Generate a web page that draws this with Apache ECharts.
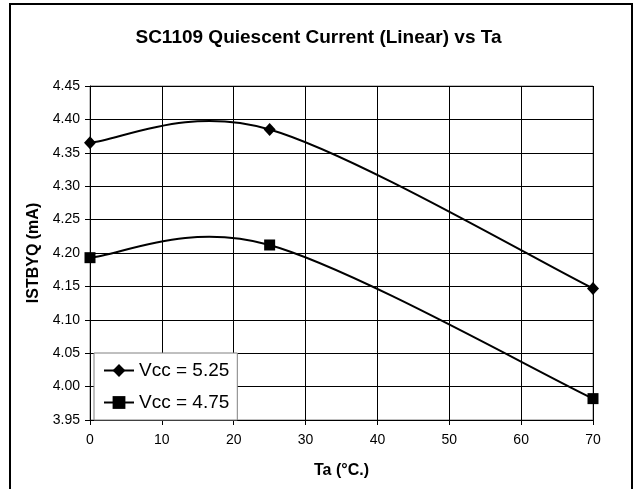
<!DOCTYPE html>
<html>
<head>
<meta charset="utf-8">
<script src="https://cdn.jsdelivr.net/npm/echarts@6/dist/echarts.min.js"></script>
<style>
html,body{margin:0;padding:0;background:#fff;}
#chart{width:637px;height:489px;}
</style>
</head>
<body>
<div id="chart"></div>
<script>
var titleText = 'SC1109 Quiescent Current (Linear) vs Ta';
var xName = 'Ta (°C.)';
var yName = 'ISTBYQ (mA)';
var seriesNames = ['Vcc = 5.25', 'Vcc = 4.75'];
var temps = [0, 25, 70];
var vcc525 = [4.365, 4.385, 4.147];
var vcc475 = [4.193, 4.212, 3.982];

function pairs(xs, ys) { return xs.map(function (x, i) { return [x, ys[i]]; }); }

// Smoothed (Catmull-Rom style) curve through the data, positioned via the axes' scales
function smoothCurve(xs, ys) {
  return function (params, api) {
    var p = xs.map(function (x, i) { return api.coord([x, ys[i]]); });
    var n = p.length;
    var d = 'M' + p[0][0] + ',' + p[0][1];
    for (var i = 0; i < n - 1; i++) {
      var p0 = p[Math.max(i - 1, 0)], p1 = p[i], p2 = p[i + 1], p3 = p[Math.min(i + 2, n - 1)];
      var c1 = [p1[0] + (p2[0] - p0[0]) / 6, p1[1] + (p2[1] - p0[1]) / 6];
      var c2 = [p2[0] - (p3[0] - p1[0]) / 6, p2[1] - (p3[1] - p1[1]) / 6];
      d += ' C' + c1[0] + ',' + c1[1] + ' ' + c2[0] + ',' + c2[1] + ' ' + p2[0] + ',' + p2[1];
    }
    return {
      type: 'path',
      shape: {pathData: d},
      style: {fill: 'none', stroke: '#000', lineWidth: 2}
    };
  };
}

var chart = echarts.init(document.getElementById('chart'), null, {renderer: 'canvas'});
var font = '"Liberation Sans", Arial, sans-serif';
chart.setOption({
  backgroundColor: '#fff',
  animation: false,
  textStyle: {fontFamily: font},
  title: {
    text: titleText, left: 'center', top: 23,
    textStyle: {fontFamily: font, fontSize: 19, fontWeight: 'bold', color: '#000'}
  },
  graphic: [{
    type: 'rect', z: 100,
    shape: {x: 10, y: 4, width: 622, height: 520},
    style: {fill: 'none', stroke: '#000', lineWidth: 2}
  }],
  grid: {left: 90, right: 44, top: 86, bottom: 69, show: true, borderColor: '#808080', borderWidth: 1},
  legend: {
    orient: 'vertical', left: 94, top: 353,
    padding: [8, 8, 8, 9], itemGap: 13, itemWidth: 30, itemHeight: 16,
    backgroundColor: '#fff', borderColor: '#808080', borderWidth: 1,
    textStyle: {fontFamily: font, fontSize: 19, color: '#000'},
    lineStyle: {color: '#000', width: 2, opacity: 1},
    data: seriesNames
  },
  xAxis: {
    type: 'value', min: 0, max: 70, interval: 10,
    name: xName, nameLocation: 'middle', nameGap: 43,
    nameTextStyle: {fontFamily: font, fontSize: 16, fontWeight: 'bold', color: '#000'},
    axisLine: {show: true, lineStyle: {color: '#000', width: 1}},
    axisTick: {show: true, length: 5, lineStyle: {color: '#000'}},
    axisLabel: {fontFamily: font, fontSize: 14, color: '#000', margin: 13},
    splitLine: {show: true, lineStyle: {color: '#000', width: 1}}
  },
  yAxis: {
    type: 'value', min: 3.95, max: 4.45, interval: 0.05,
    name: yName, nameLocation: 'middle', nameGap: 43, nameRotate: 90,
    nameTextStyle: {fontFamily: font, fontSize: 16, fontWeight: 'bold', color: '#000'},
    axisLine: {show: true, lineStyle: {color: '#000', width: 1}},
    axisTick: {show: true, length: 5, lineStyle: {color: '#000'}},
    axisLabel: {fontFamily: font, fontSize: 14, color: '#000', margin: 10,
      formatter: function (v) { return v.toFixed(2); }},
    splitLine: {show: true, lineStyle: {color: '#000', width: 1}}
  },
  series: [
    {
      name: seriesNames[0] + ' curve', type: 'custom', silent: true, z: 2,
      data: [0], renderItem: smoothCurve(temps, vcc525)
    },
    {
      name: seriesNames[1] + ' curve', type: 'custom', silent: true, z: 2,
      data: [0], renderItem: smoothCurve(temps, vcc475)
    },
    {
      name: seriesNames[0], type: 'line', z: 3,
      data: pairs(temps, vcc525),
      symbol: 'diamond', symbolSize: [12, 13],
      lineStyle: {color: '#000', width: 2, opacity: 0},
      itemStyle: {color: '#000', borderWidth: 0}
    },
    {
      name: seriesNames[1], type: 'line', z: 3,
      data: pairs(temps, vcc475),
      symbol: 'rect', symbolSize: 11,
      lineStyle: {color: '#000', width: 2, opacity: 0},
      itemStyle: {color: '#000', borderWidth: 0}
    }
  ]
});
</script>
</body>
</html>
